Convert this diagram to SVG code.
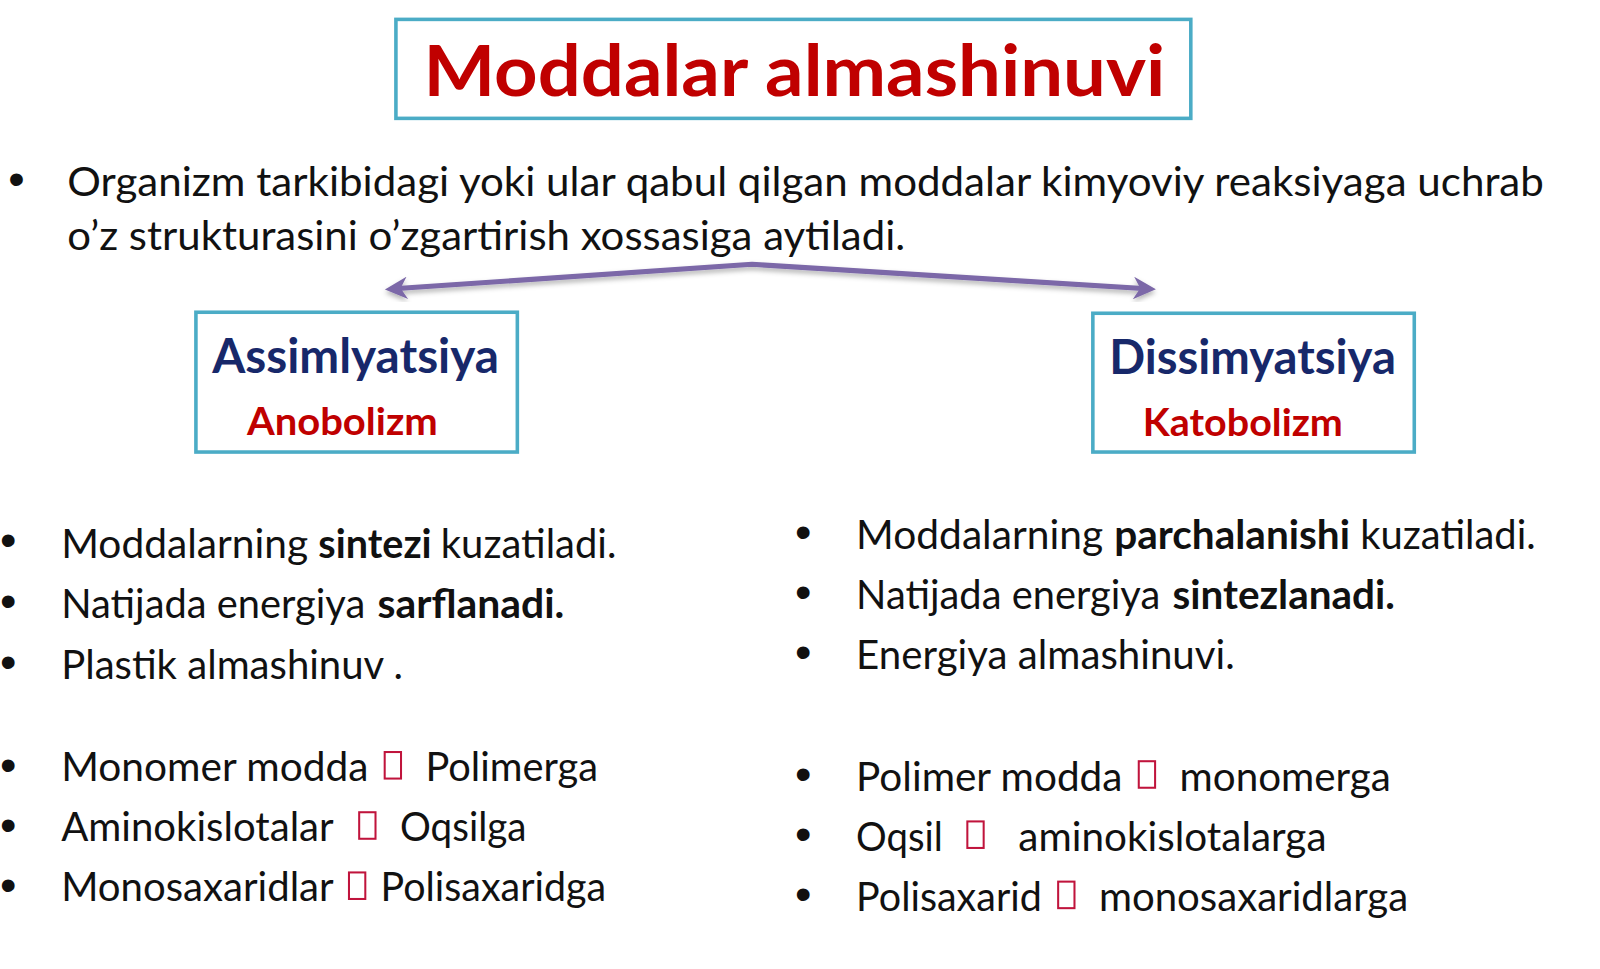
<svg xmlns="http://www.w3.org/2000/svg" width="1600" height="969" viewBox="0 0 1600 969">
<defs>
<style>
.box{fill:#ffffff;stroke:#4bacc6;stroke-width:3.5}
.t{font-family:Lato,"Open Sans","Liberation Sans",sans-serif;fill:#111111;font-size:39px}
.b{font-weight:bold}
.bul{font-family:"Liberation Sans",Arial,sans-serif;font-size:46px;fill:#111111}
.title{font-family:Lato,"Liberation Sans",sans-serif;font-weight:bold;font-size:70px;fill:#c00000}
.head{font-family:Lato,"Liberation Sans",sans-serif;font-weight:bold;font-size:46px;fill:#17286a}
.sub{font-family:Lato,"Liberation Sans",sans-serif;font-weight:bold;font-size:38px;fill:#c00000}
.tofu{fill:none;stroke:#c0143c;stroke-width:2}
.arrow{fill:none;stroke:#7b68a8;stroke-width:5;stroke-linejoin:round}
</style>
<marker id="ah" viewBox="0 0 10 10" refX="6" refY="5" markerWidth="5" markerHeight="4.4" orient="auto-start-reverse">
<path d="M0,0 L10,5 L0,10 L3,5 Z" fill="#7b68a8"/>
</marker>
<filter id="sh" x="-5%" y="-50%" width="110%" height="200%">
<feDropShadow dx="0" dy="3" stdDeviation="2.5" flood-color="#000000" flood-opacity="0.3"/>
</filter>
</defs>
<rect x="0" y="0" width="1600" height="969" fill="#ffffff"/>

<g transform="scale(1.0204)">
<g id="title">
<rect class="box" x="388" y="19" width="779" height="97"/>
<text class="title" x="415" y="94" textLength="727" lengthAdjust="spacingAndGlyphs">Moddalar almashinuvi</text>
</g>

<g id="definition">
<text class="bul" x="8" y="191">•</text>
<text class="t" x="66" y="192" textLength="1447" lengthAdjust="spacingAndGlyphs">Organizm tarkibidagi yoki ular qabul qilgan moddalar kimyoviy reaksiyaga uchrab</text>
<text class="t" x="66" y="245" textLength="821" lengthAdjust="spacingAndGlyphs">o’z strukturasini o’zgartirish xossasiga aytiladi.</text>
</g>

<g id="connectors">
<polyline class="arrow" filter="url(#sh)" points="386,283 737,259 1124,283" marker-start="url(#ah)" marker-end="url(#ah)"/>
</g>

<g id="assimilyatsiya">
<rect class="box" x="192" y="306" width="315" height="137"/>
<text class="head" x="208" y="366" textLength="281" lengthAdjust="spacingAndGlyphs">Assimlyatsiya</text>
<text class="sub" x="242" y="426" textLength="187" lengthAdjust="spacingAndGlyphs">Anobolizm</text>
</g>

<g id="dissimilyatsiya">
<rect class="box" x="1071" y="307" width="315" height="136"/>
<text class="head" x="1087" y="367" textLength="281" lengthAdjust="spacingAndGlyphs">Dissimyatsiya</text>
<text class="sub" x="1120" y="427" textLength="196" lengthAdjust="spacingAndGlyphs">Katobolizm</text>
</g>

<g id="left-list">
<text class="bul" x="0" y="545">•</text>
<text class="t" x="60" y="547" textLength="242" lengthAdjust="spacingAndGlyphs">Moddalarning</text>
<text class="t b" x="312" y="547" textLength="111" lengthAdjust="spacingAndGlyphs">sintezi</text>
<text class="t" x="432" y="547" textLength="172" lengthAdjust="spacingAndGlyphs">kuzatiladi.</text>

<text class="bul" x="0" y="605">•</text>
<text class="t" x="60" y="606" textLength="298" lengthAdjust="spacingAndGlyphs">Natijada energiya</text>
<text class="t b" x="370" y="606" textLength="183" lengthAdjust="spacingAndGlyphs">sarflanadi.</text>

<text class="bul" x="0" y="664">•</text>
<text class="t" x="60" y="665" textLength="335" lengthAdjust="spacingAndGlyphs">Plastik almashinuv .</text>

<text class="bul" x="0" y="765">•</text>
<text class="t" x="60" y="765" textLength="301" lengthAdjust="spacingAndGlyphs">Monomer modda</text>
<rect class="tofu" x="377" y="737" width="16" height="26"/>
<text class="t" x="417" y="765" textLength="169" lengthAdjust="spacingAndGlyphs">Polimerga</text>

<text class="bul" x="0" y="824">•</text>
<text class="t" x="60" y="824" textLength="267" lengthAdjust="spacingAndGlyphs">Aminokislotalar</text>
<rect class="tofu" x="352" y="796" width="16" height="26"/>
<text class="t" x="392" y="824" textLength="124" lengthAdjust="spacingAndGlyphs">Oqsilga</text>

<text class="bul" x="0" y="883">•</text>
<text class="t" x="60" y="883" textLength="267" lengthAdjust="spacingAndGlyphs">Monosaxaridlar</text>
<rect class="tofu" x="342" y="855" width="16" height="26"/>
<text class="t" x="373" y="883" textLength="221" lengthAdjust="spacingAndGlyphs">Polisaxaridga</text>
</g>

<g id="right-list">
<text class="bul" x="779" y="537">•</text>
<text class="t" x="839" y="538" textLength="242" lengthAdjust="spacingAndGlyphs">Moddalarning</text>
<text class="t b" x="1092" y="538" textLength="231" lengthAdjust="spacingAndGlyphs">parchalanishi</text>
<text class="t" x="1333" y="538" textLength="172" lengthAdjust="spacingAndGlyphs">kuzatiladi.</text>

<text class="bul" x="779" y="596">•</text>
<text class="t" x="839" y="597" textLength="298" lengthAdjust="spacingAndGlyphs">Natijada energiya</text>
<text class="t b" x="1149" y="597" textLength="218" lengthAdjust="spacingAndGlyphs">sintezlanadi.</text>

<text class="bul" x="779" y="655">•</text>
<text class="t" x="839" y="656" textLength="371" lengthAdjust="spacingAndGlyphs">Energiya almashinuvi.</text>

<text class="bul" x="779" y="774">•</text>
<text class="t" x="839" y="775" textLength="261" lengthAdjust="spacingAndGlyphs">Polimer modda</text>
<rect class="tofu" x="1116" y="746" width="16" height="26"/>
<text class="t" x="1156" y="775" textLength="207" lengthAdjust="spacingAndGlyphs">monomerga</text>

<text class="bul" x="779" y="833">•</text>
<text class="t" x="839" y="834" textLength="85" lengthAdjust="spacingAndGlyphs">Oqsil</text>
<rect class="tofu" x="948" y="805" width="16" height="26"/>
<text class="t" x="998" y="834" textLength="302" lengthAdjust="spacingAndGlyphs">aminokislotalarga</text>

<text class="bul" x="779" y="892">•</text>
<text class="t" x="839" y="893" textLength="182" lengthAdjust="spacingAndGlyphs">Polisaxarid</text>
<rect class="tofu" x="1037" y="864" width="16" height="26"/>
<text class="t" x="1077" y="893" textLength="303" lengthAdjust="spacingAndGlyphs">monosaxaridlarga</text>
</g>
</g>
</svg>
